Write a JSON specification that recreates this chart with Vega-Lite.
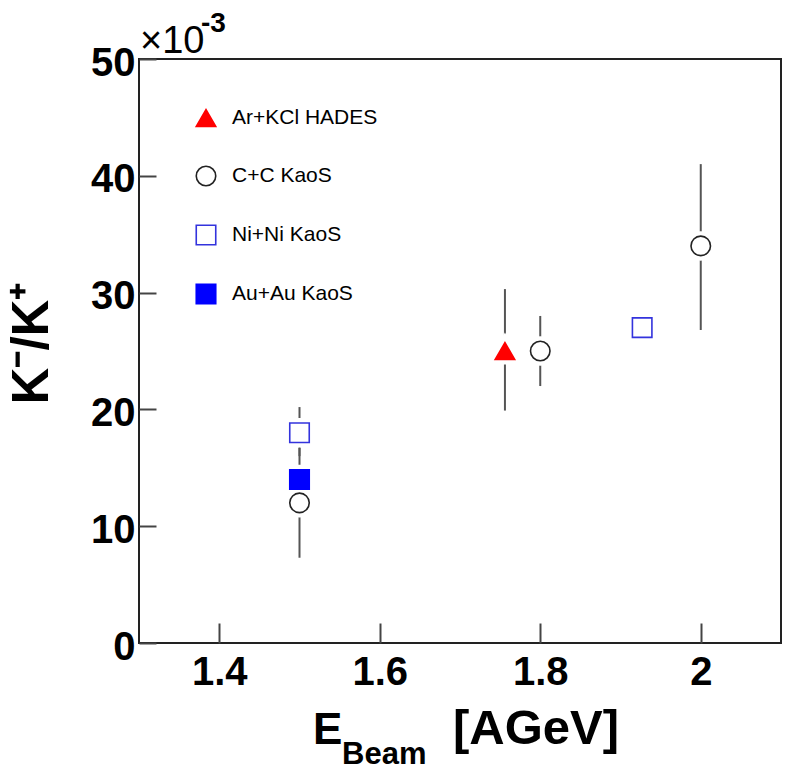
{
  "$schema": "https://vega.github.io/schema/vega-lite/v6.json",
  "width": 642,
  "height": 584,
  "autosize": "none",
  "padding": {"left": 139, "top": 59, "right": 12, "bottom": 128},
  "background": "white",
  "data": {
    "values": [
      {"series": "Ar+KCl HADES", "E": 1.756, "R": 25.0, "lo": 19.9, "hi": 30.3},
      {"series": "C+C KaoS", "E": 1.5, "R": 12.0, "lo": 7.3, "hi": 16.7},
      {"series": "C+C KaoS", "E": 1.8, "R": 25.0, "lo": 22.0, "hi": 28.0},
      {"series": "C+C KaoS", "E": 2.0, "R": 34.0, "lo": 26.8, "hi": 41.0},
      {"series": "Ni+Ni KaoS", "E": 1.5, "R": 18.0, "lo": 16.0, "hi": 20.2},
      {"series": "Ni+Ni KaoS", "E": 1.927, "R": 27.0},
      {"series": "Au+Au KaoS", "E": 1.5, "R": 14.0}
    ]
  },
  "layer": [
    {
      "transform": [{"filter": "isValid(datum.lo)"}],
      "mark": {"type": "rule", "color": "#555555", "strokeWidth": 2},
      "encoding": {
        "x": {"field": "E", "type": "quantitative", "scale": {"domain": [1.3, 2.1], "nice": false, "zero": false},
              "axis": {"values": [1.4, 1.6, 1.8, 2.0], "format": "~g", "title": null, "tickSize": -20, "labelPadding": 29}},
        "y": {"field": "lo", "type": "quantitative", "scale": {"domain": [0, 50], "nice": false},
              "axis": {"values": [0, 10, 20, 30, 40, 50], "tickSize": -17, "labelPadding": 21, "labelOffset": 4,
                       "title": "K⁻/K⁺", "titleFontSize": 51, "titleFontWeight": "bold", "titleColor": "#000",
                       "titleAngle": -90, "titleX": -92, "titleY": 284, "titleAlign": "center", "titleBaseline": "alphabetic"}},
        "y2": {"field": "hi"}
      }
    },
    {
      "mark": {"type": "point", "filled": true, "fill": "white", "stroke": "white", "strokeWidth": 10, "size": 380, "opacity": 1},
      "encoding": {
        "x": {"field": "E", "type": "quantitative"},
        "y": {"field": "R", "type": "quantitative"},
        "shape": {"field": "series", "type": "nominal", "title": null,
                  "scale": {"domain": ["Ar+KCl HADES", "C+C KaoS", "Ni+Ni KaoS", "Au+Au KaoS"], "range": ["triangle-up", "circle", "square", "square"]}}
      }
    },
    {
      "mark": {"type": "point", "strokeWidth": 1.6, "size": 380, "opacity": 1, "fillOpacity": 1},
      "encoding": {
        "x": {"field": "E", "type": "quantitative"},
        "y": {"field": "R", "type": "quantitative"},
        "shape": {"field": "series", "type": "nominal", "title": null,
                  "scale": {"domain": ["Ar+KCl HADES", "C+C KaoS", "Ni+Ni KaoS", "Au+Au KaoS"], "range": ["triangle-up", "circle", "square", "square"]}},
        "stroke": {"field": "series", "type": "nominal", "title": null,
                   "scale": {"domain": ["Ar+KCl HADES", "C+C KaoS", "Ni+Ni KaoS", "Au+Au KaoS"], "range": ["#ff0000", "#222222", "#3333dd", "#0000ff"]}},
        "fill": {"field": "series", "type": "nominal", "title": null,
                 "scale": {"domain": ["Ar+KCl HADES", "C+C KaoS", "Ni+Ni KaoS", "Au+Au KaoS"], "range": ["#ff0000", "#ffffff", "#ffffff", "#0000ff"]}}
      }
    },
    {
      "data": {"values": [{"label": "×10"}]},
      "mark": {"type": "text", "align": "left", "baseline": "alphabetic", "fontSize": 38, "font": "Liberation Sans", "color": "#000", "dx": 1, "dy": -6},
      "encoding": {"x": {"datum": 1.3, "type": "quantitative"}, "y": {"datum": 50, "type": "quantitative"}, "text": {"field": "label"}}
    },
    {
      "data": {"values": [{"label": "-3"}]},
      "mark": {"type": "text", "align": "left", "baseline": "alphabetic", "fontSize": 28, "fontWeight": "bold", "font": "Liberation Sans", "color": "#000", "dx": 62, "dy": -27},
      "encoding": {"x": {"datum": 1.3, "type": "quantitative"}, "y": {"datum": 50, "type": "quantitative"}, "text": {"field": "label"}}
    },
    {
      "data": {"values": [{"label": "E"}]},
      "mark": {"type": "text", "align": "left", "baseline": "alphabetic", "fontSize": 44, "fontWeight": "bold", "font": "Liberation Sans", "color": "#000", "dy": 101},
      "encoding": {"x": {"datum": 1.5168, "type": "quantitative"}, "y": {"datum": 0, "type": "quantitative"}, "text": {"field": "label"}}
    },
    {
      "data": {"values": [{"label": "Beam"}]},
      "mark": {"type": "text", "align": "left", "baseline": "alphabetic", "fontSize": 31, "fontWeight": "bold", "font": "Liberation Sans", "color": "#000", "dy": 121},
      "encoding": {"x": {"datum": 1.5530, "type": "quantitative"}, "y": {"datum": 0, "type": "quantitative"}, "text": {"field": "label"}}
    },
    {
      "data": {"values": [{"label": "[AGeV]"}]},
      "mark": {"type": "text", "align": "left", "baseline": "alphabetic", "fontSize": 49, "fontWeight": "bold", "font": "Liberation Sans", "color": "#000", "dy": 101},
      "encoding": {"x": {"datum": 1.6913, "type": "quantitative"}, "y": {"datum": 0, "type": "quantitative"}, "text": {"field": "label"}}
    }
  ],
  "config": {
    "font": "Liberation Sans",
    "view": {"stroke": "#222222", "strokeWidth": 2},
    "axis": {"domain": false, "grid": false, "tickColor": "#444444", "tickWidth": 2,
             "labelFont": "Liberation Sans", "labelFontWeight": "bold", "labelFontSize": 40, "labelColor": "#000000",
             "titleFont": "Liberation Sans"},
    "legend": {"orient": "none", "legendX": 56, "legendY": 48, "padding": 0, "symbolSize": 380, "symbolStrokeWidth": 1.6,
               "labelFont": "Liberation Sans", "labelFontSize": 21, "labelColor": "#000", "labelOffset": 15, "rowPadding": 33, "titlePadding": 0}
  }
}
